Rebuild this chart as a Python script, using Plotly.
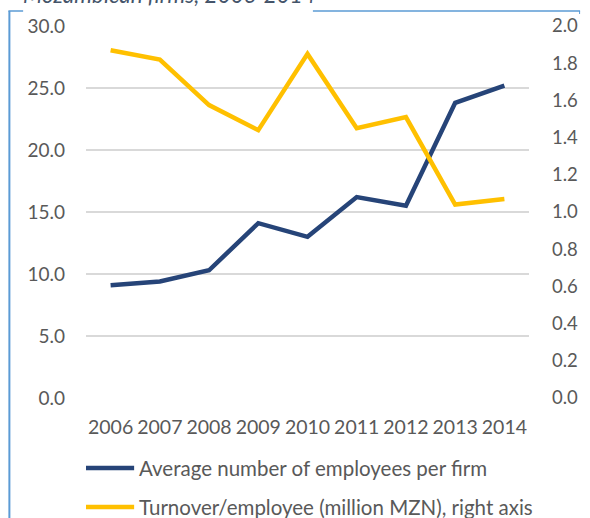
import plotly.graph_objects as go

years = ["2006", "2007", "2008", "2009", "2010", "2011", "2012", "2013", "2014"]
employees = [9.1, 9.4, 10.3, 14.1, 13.0, 16.2, 15.5, 23.8, 25.2]
turnover = [1.87, 1.82, 1.575, 1.44, 1.85, 1.45, 1.51, 1.04, 1.07]
left_ticks = [0, 5, 10, 15, 20, 25, 30]
right_ticks = [0.0, 0.2, 0.4, 0.6, 0.8, 1.0, 1.2, 1.4, 1.6, 1.8, 2.0]
names = ["Average number of employees per firm", "Turnover/employee (million MZN), right axis"]
title = "Mozambican firms, 2006-2014"

BLUE = "#264478"
GOLD = "#FFC000"
GREY = "#595959"
FONT = "Lato, Open Sans, sans-serif"

W, H = 590, 518
L, R, T, B = 86, 53, 26, 120
pw, ph = W - L - R, H - T - B

def px(x):
    return (x - L) / pw

def py(y):
    return (H - B - y) / ph

fig = go.Figure()
fig.add_trace(go.Scatter(x=years, y=employees, mode="lines", name=names[0],
                         line=dict(color=BLUE, width=4.5), yaxis="y"))
fig.add_trace(go.Scatter(x=years, y=turnover, mode="lines", name=names[1],
                         line=dict(color=GOLD, width=4.5), yaxis="y2"))

fig.update_layout(
    width=W, height=H,
    margin=dict(l=L, r=R, t=T, b=B),
    paper_bgcolor="white", plot_bgcolor="white",
    showlegend=False,
    font=dict(family=FONT, color=GREY, size=18),
    xaxis=dict(type="category", range=[-0.5, len(years) - 0.5], showgrid=False,
               showline=False, zeroline=False,
               tickfont=dict(size=19.5, color=GREY), ticks="", ticklabelstandoff=15),
    yaxis=dict(range=[0, 30], tickvals=left_ticks, ticktext=[f"{v:.1f}" for v in left_ticks],
               showgrid=True, gridcolor="#D9D9D9", gridwidth=1.5, zeroline=False,
               showline=False, ticks="", ticklabelstandoff=20,
               tickfont=dict(size=19, color=GREY)),
    yaxis2=dict(range=[0, 2], tickvals=right_ticks, ticktext=[f"{v:.1f}" for v in right_ticks],
                overlaying="y", side="right", showgrid=False, zeroline=False,
                showline=False, ticks="", ticklabelstandoff=22,
                tickfont=dict(size=18.5, color=GREY)),
)

# frame (blue border of the chart box, interrupted by the title)
border = "#5B9BD5"
shapes = [
    dict(type="line", xref="paper", yref="paper", x0=px(8), x1=px(8), y0=py(11), y1=py(530),
         line=dict(color=border, width=2)),
    dict(type="line", xref="paper", yref="paper", x0=px(7), x1=px(22), y0=py(11), y1=py(11),
         line=dict(color=border, width=1.5)),
    dict(type="line", xref="paper", yref="paper", x0=px(317), x1=px(589), y0=py(11), y1=py(11),
         line=dict(color=border, width=1.5)),
    dict(type="line", xref="paper", yref="paper", x0=px(588.5), x1=px(588.5), y0=py(11), y1=py(14),
         line=dict(color=border, width=1)),
]
# manual legend
leg_y = [468, 507]
colors = [BLUE, GOLD]
annotations = []
for n, c, yy in zip(names, colors, leg_y):
    shapes.append(dict(type="line", xref="paper", yref="paper", x0=px(86), x1=px(135),
                       y0=py(yy), y1=py(yy), line=dict(color=c, width=4.5)))
    annotations.append(dict(text=n, xref="paper", yref="paper", x=px(138), y=py(yy),
                            xanchor="left", yanchor="middle", showarrow=False,
                            font=dict(size=20.5, color=GREY, family=FONT)))
annotations.append(dict(text=f"<i>{title}</i>", xref="paper", yref="paper", x=px(20), y=py(10),
                        xanchor="left", yanchor="bottom", showarrow=False,
                        font=dict(size=22.5, color="#44546A", family=FONT)))
fig.update_layout(shapes=shapes, annotations=annotations)

fig.write_html("out.html")
